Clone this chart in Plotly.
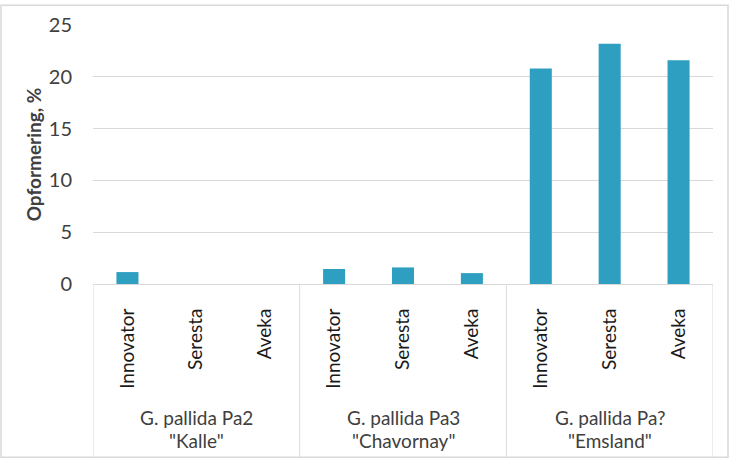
import plotly.graph_objects as go

varieties = ["Innovator", "Seresta", "Aveka",
             "Innovator", "Seresta", "Aveka",
             "Innovator", "Seresta", "Aveka"]
group_line1 = ["G. pallida Pa2", "G. pallida Pa3", "G. pallida Pa?"]
group_line2 = ['"Kalle"', '"Chavornay"', '"Emsland"']
values = [1.15, 0.0, 0.0,
          1.45, 1.6, 1.05,
          20.8, 23.2, 21.6]
y_ticks = [0, 5, 10, 15, 20, 25]

BAR = "#2E9FC0"
TXT = "#404040"
FONT = "Lato"

W, H = 731, 466
ml, mr, mt, mb = 93, 18, 21, 182
pw = W - ml - mr
ph = H - mt - mb

xs = list(range(len(varieties)))
fig = go.Figure(go.Bar(x=xs, y=values, marker_color=BAR, width=0.32,
                       marker_line_width=0))

def py(pix):
    return (H - mb - pix) / ph

def px(pix):
    return (pix - ml) / pw

shapes = []
n_per = 3
for gi in range(len(group_line1) + 1):
    xb = gi * n_per - 0.5
    shapes.append(dict(type="line", xref="x", yref="paper", x0=xb, x1=xb,
                       y0=0, y1=py(460), line=dict(color="#D9D9D9", width=1)))
shapes.append(dict(type="rect", xref="paper", yref="paper",
                   x0=px(1), x1=px(728), y0=py(460), y1=py(1),
                   line=dict(color="#D9D9D9", width=1.5), layer="below"))

annotations = []
for gi in range(len(group_line1)):
    for txt, ypix in ((group_line1[gi], 420), (group_line2[gi], 443)):
        annotations.append(dict(x=gi * n_per + 1, xref="x", y=py(ypix), yref="paper",
                                text=txt, showarrow=False, xanchor="center",
                                yanchor="middle",
                                font=dict(family=FONT, size=19, color=TXT)))

fig.update_layout(
    width=W, height=H,
    margin=dict(l=ml, r=mr, t=mt, b=mb),
    paper_bgcolor="white", plot_bgcolor="white",
    showlegend=False,
    font=dict(family=FONT, size=19, color=TXT),
    shapes=shapes, annotations=annotations,
    xaxis=dict(range=[-0.5, len(varieties) - 0.5], tickvals=xs, ticktext=varieties,
               tickangle=-90, showgrid=False, showline=True, linecolor="#D9D9D9",
               linewidth=1, ticks="", ticklabelstandoff=16,
               tickfont=dict(family=FONT, size=19, color="#1a1a1a"),
               zeroline=False, fixedrange=True),
    yaxis=dict(range=[0, 25], tickvals=y_ticks, showgrid=True, gridcolor="#D9D9D9",
               gridwidth=1, zeroline=False, showline=False, ticks="",
               ticklabelstandoff=20,
               tickfont=dict(family=FONT, size=20, color=TXT),
               title=dict(text="<b>Opformering, %</b>", standoff=2,
                          font=dict(family=FONT, size=19, color=TXT))),
)

fig.write_html("out.html", config={"displayModeBar": False},
               post_script="document.body.style.margin='0';")
